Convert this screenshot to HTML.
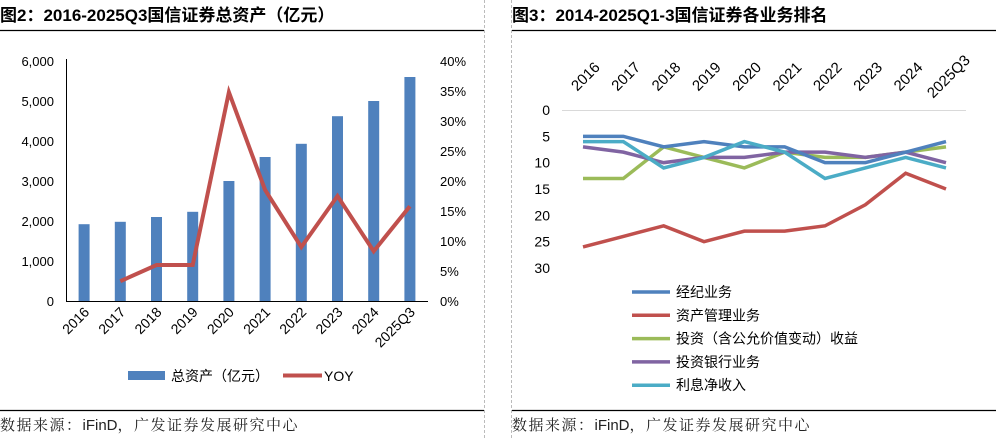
<!DOCTYPE html>
<html><head><meta charset="utf-8"><style>
body{margin:0;background:#fff;}
svg{display:block;font-family:"Liberation Sans","Noto Sans CJK SC",sans-serif;}
</style></head><body>
<svg width="996" height="440" viewBox="0 0 996 440">
<text x="0" y="21" font-size="17" font-weight="bold" fill="#000">图2：2016-2025Q3国信证券总资产（亿元）</text>
<text x="512" y="21" font-size="17" font-weight="bold" fill="#000">图3：2014-2025Q1-3国信证券各业务排名</text>
<line x1="0" y1="30.5" x2="484" y2="30.5" stroke="#000" stroke-width="1.2"/>
<line x1="512" y1="30.5" x2="996" y2="30.5" stroke="#000" stroke-width="1.2"/>
<line x1="0" y1="410.5" x2="484" y2="410.5" stroke="#000" stroke-width="1.2"/>
<line x1="512" y1="410.5" x2="996" y2="410.5" stroke="#000" stroke-width="1.2"/>
<line x1="484.5" y1="0" x2="484.5" y2="440" stroke="#bbb" stroke-dasharray="3,2"/>
<line x1="511.5" y1="0" x2="511.5" y2="440" stroke="#bbb" stroke-dasharray="3,2"/>
<text x="0" y="430" font-size="15" fill="#222" font-family="'Liberation Serif','Noto Serif CJK SC',serif" letter-spacing="1.5">数据来源：<tspan font-family="'Liberation Sans',sans-serif" letter-spacing="0">iFinD</tspan>，广发证券发展研究中心</text>
<text x="512" y="430" font-size="15" fill="#222" font-family="'Liberation Serif','Noto Serif CJK SC',serif" letter-spacing="1.5">数据来源：<tspan font-family="'Liberation Sans',sans-serif" letter-spacing="0">iFinD</tspan>，广发证券发展研究中心</text>
<g id="left"></g>
<g id="right"></g>
</svg>
<script>
const cats=["2016","2017","2018","2019","2020","2021","2022","2023","2024","2025Q3"];
const assets=[1920,1980,2100,2230,3000,3600,3930,4620,5000,5600];
const yoy=[null,3.3,6,6,34.8,18.5,9,17.5,8.3,15.8];
const leftTicks=["0","1,000","2,000","3,000","4,000","5,000","6,000"];
const rightTicks=["0%","5%","10%","15%","20%","25%","30%","35%","40%"];
const rankCats=["2016","2017","2018","2019","2020","2021","2022","2023","2024","2025Q3"];
const brokerage=[5,5,7,6,7,7,10,10,8,6];
const assetMgmt=[26,24,22,25,23,23,22,18,12,15];
const investment=[13,13,7,9,11,8,9,9,8,7];
const ibanking=[7,8,10,9,9,8,8,9,8,10];
const interest=[6,6,11,9,6,8,13,11,9,11];
const rankTicks=["0","5","10","15","20","25","30"];
const seriesNames=["经纪业务","资产管理业务","投资（含公允价值变动）收益","投资银行业务","利息净收入"];
const NS="http://www.w3.org/2000/svg";
function mk(parent,tag,attrs,text){const e=document.createElementNS(NS,tag);for(const k in attrs)e.setAttribute(k,attrs[k]);if(text!=null)e.textContent=text;parent.appendChild(e);return e;}
// LEFT
const L=document.getElementById('left');
const x0=66,x1=428,yb=301,yt=61;
const step=(x1-x0)/cats.length;
const xL=i=>x0+step*(i+0.5);
const yA=v=>yb-(v/6000)*(yb-yt);
const yP=v=>yb-(v/40)*(yb-yt);
leftTicks.forEach((t,i)=>{const e=mk(L,'text',{x:54,y:yb-i*40+5,'text-anchor':'end','font-size':13,fill:'#000'},t);

});
rightTicks.forEach((t,i)=>{const e=mk(L,'text',{x:440,y:yb-i*30+5,'font-size':13,fill:'#000'},t);

});
assets.forEach((v,i)=>{const e=mk(L,'rect',{x:xL(i)-5.5,y:yA(v),width:11,height:yb-yA(v),fill:'#4f81bd'});

});
let ax=mk(L,'path',{d:`M${x0+.5} ${yt-2}V${yb+.5}H${x1}`,stroke:'#000',fill:'none','stroke-width':1});


let d='';yoy.forEach((v,i)=>{if(v==null)return;d+=(d?'L':'M')+xL(i)+' '+yP(v);});
let yl=mk(L,'path',{d:d,stroke:'#c0504d','stroke-width':4,fill:'none','stroke-linejoin':'miter'});


cats.forEach((c,i)=>{const e=mk(L,'text',{transform:`translate(${xL(i)+6},${313}) rotate(-45)`,'text-anchor':'end','font-size':14,fill:'#000'},c);

});
let lg=mk(L,'rect',{x:128,y:371,width:37,height:9,fill:'#4f81bd'});


let lt=mk(L,'text',{x:171,y:381,'font-size':14,fill:'#000'},'总资产（亿元）');


let lg2=mk(L,'line',{x1:283,y1:375.5,x2:322,y2:375.5,stroke:'#c0504d','stroke-width':4});


let lt2=mk(L,'text',{x:324,y:381,'font-size':14,fill:'#000'},'YOY');


// RIGHT
const R=document.getElementById('right');
const rx0=583,rx1=946,ry0=110,ry1=268;
const xR=i=>rx0+(rx1-rx0)/(rankCats.length-1)*i;
const yR=v=>ry0+(v/30)*(ry1-ry0);
let gl=mk(R,'line',{x1:562,y1:ry0+.5,x2:966,y2:ry0+.5,stroke:'#d9d9d9'});


rankTicks.forEach((t,i)=>{const e=mk(R,'text',{x:550,y:yR(i*5)+5,'text-anchor':'end','font-size':14,fill:'#000'},t);

});
rankCats.forEach((c,i)=>{const e=mk(R,'text',{transform:`translate(${xR(i)+6},${80}) rotate(-45)`,'text-anchor':'middle','font-size':15,fill:'#000'},c);

});
const series=[brokerage,assetMgmt,investment,ibanking,interest];
const colors=['#4f81bd','#c0504d','#9bbb59','#8064a2','#4bacc6'];
const order=[2,3,0,1,4];
order.forEach(s=>{const arr=series[s];const p=mk(R,'path',{d:arr.map((v,i)=>(i?'L':'M')+xR(i)+' '+yR(v)).join(''),stroke:colors[s],'stroke-width':3.5,fill:'none'});

});
seriesNames.forEach((n,s)=>{const y=292+s*23.3;
const sw=mk(R,'line',{x1:632,y1:y,x2:670,y2:y,stroke:colors[s],'stroke-width':3.5});


const t=mk(R,'text',{x:676,y:y+5,'font-size':14,fill:'#000'},n);

});
</script>
</body></html>
